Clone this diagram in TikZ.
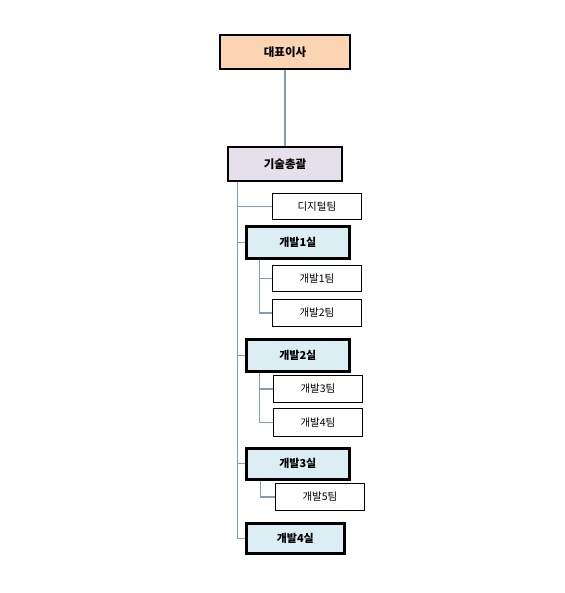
\documentclass[tikz,border=0pt]{standalone}
\usepackage{fontspec}
\newfontfamily\kr{Noto Sans CJK KR}
\definecolor{peach}{HTML}{FBD4B4}
\definecolor{lav}{HTML}{E5E0EC}
\definecolor{lblue}{HTML}{DBEEF3}
\definecolor{conn}{HTML}{7F9CB8}
\begin{document}
\begin{tikzpicture}[x=1pt,y=-1pt,
  box/.style={draw=black,anchor=north west,inner sep=0pt,font=\kr\fontsize{10.5}{12}\selectfont},
  topbox/.style={box,line width=2pt,font=\kr\bfseries\fontsize{11.5}{13}\selectfont},
  shil/.style={box,line width=2.6pt,fill=lblue,font=\kr\bfseries\fontsize{11}{12}\selectfont},
  team/.style={box,line width=0.8pt,fill=white},
  link/.style={draw=conn,line width=1.2pt}]
\useasboundingbox (0,0) rectangle (564,593);
\node[topbox,fill=peach,minimum width=130pt,minimum height=34pt] (ceo) at (219,34) {대표이사};
\node[topbox,fill=lav,minimum width=114pt,minimum height=34pt] (cto) at (227,146) {기술총괄};
\node[team,minimum width=89pt,minimum height=26pt] (dt) at (272,193) {디지털팀};
\node[shil,minimum width=103pt,minimum height=32pt] (s1) at (245,225) {개발1실};
\node[team,minimum width=89pt,minimum height=26pt] (t1) at (272,265) {개발1팀};
\node[team,minimum width=89pt,minimum height=27pt] (t2) at (272,299) {개발2팀};
\node[shil,minimum width=103pt,minimum height=32pt] (s2) at (245,338) {개발2실};
\node[team,minimum width=89pt,minimum height=27pt] (t3) at (273,375) {개발3팀};
\node[team,minimum width=89pt,minimum height=28pt] (t4) at (273,408) {개발4팀};
\node[shil,minimum width=103pt,minimum height=31pt] (s3) at (245,447) {개발3실};
\node[team,minimum width=89pt,minimum height=27pt] (t5) at (275,483) {개발5팀};
\node[shil,minimum width=98pt,minimum height=30pt] (s4) at (245,522) {개발4실};
\coordinate (trunk) at (237.5,0);
\coordinate (b1) at (259.5,0);
\coordinate (b3) at (260.5,0);
\draw[link] (ceo.south) -- (cto.north);
\draw[link] (cto.south west -| trunk) |- (s4.west);
\draw[link] (dt.west -| trunk) -- (dt.west);
\draw[link] (s1.west -| trunk) -- (s1.west);
\draw[link] (s2.west -| trunk) -- (s2.west);
\draw[link] (s3.west -| trunk) -- (s3.west);
\draw[link] (s1.south -| b1) |- (t1.west);
\draw[link] (s1.south -| b1) |- (t2.west);
\draw[link] (s2.south -| b1) |- (t3.west);
\draw[link] (s2.south -| b1) |- (t4.west);
\draw[link] (s3.south -| b3) |- (t5.west);
\end{tikzpicture}
\end{document}
